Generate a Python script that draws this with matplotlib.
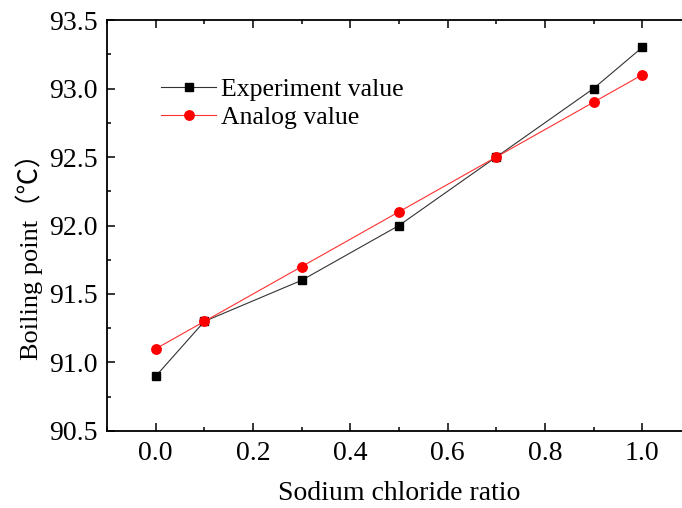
import numpy as np
import matplotlib
matplotlib.use("Agg")
import matplotlib.pyplot as plt
from matplotlib.ticker import MultipleLocator, FormatStrFormatter

# data
ratio = [0.0, 0.1, 0.3, 0.5, 0.7, 0.9, 1.0]
experiment = [90.9, 91.3, 91.6, 92.0, 92.5, 93.0, 93.3]
analog = [91.1, 91.3, 91.7, 92.1, 92.5, 92.9, 93.1]

plt.rcParams['font.family'] = ['Liberation Serif', 'Noto Sans CJK SC', 'DejaVu Sans']

fig = plt.figure(figsize=(6.82, 5.08), dpi=100)
ax = fig.add_axes([0.157, 0.1516, 0.856, 0.809])

ax.plot(ratio, experiment, color='#333333', lw=0.8, marker='s', ms=6,
        mfc='black', mec='black', label='Experiment value')
ax.plot(ratio, analog, color='#ff3030', lw=0.8, marker='o', ms=6.8,
        mfc='red', mec='red', label='Analog value')

ax.set_xlim(-0.1, 1.1)
ax.set_ylim(90.5, 93.5)
ax.xaxis.set_major_locator(MultipleLocator(0.2))
ax.xaxis.set_minor_locator(MultipleLocator(0.1))
ax.yaxis.set_major_locator(MultipleLocator(0.5))
ax.yaxis.set_minor_locator(MultipleLocator(0.25))
ax.xaxis.set_major_formatter(FormatStrFormatter('%.1f'))
ax.yaxis.set_major_formatter(FormatStrFormatter('%.1f'))

ax.tick_params(which='both', direction='in', labelsize=20, width=1.1,
               top=True, pad=7)
ax.tick_params(which='major', length=6)
ax.tick_params(which='minor', length=3)
for s in ax.spines.values():
    s.set_linewidth(1.3)

ax.set_xlabel('Sodium chloride ratio', fontsize=20, labelpad=11)
ax.set_ylabel('Boiling point（℃）', fontsize=19)
ax.yaxis.set_label_coords(-0.11, 0.44)

ax.legend(loc='upper left', bbox_to_anchor=(0.053, 0.916), frameon=False,
          fontsize=18.5, handlelength=2.15, handletextpad=0.18, labelspacing=0.22)

fig.savefig('out.png', dpi=100)
